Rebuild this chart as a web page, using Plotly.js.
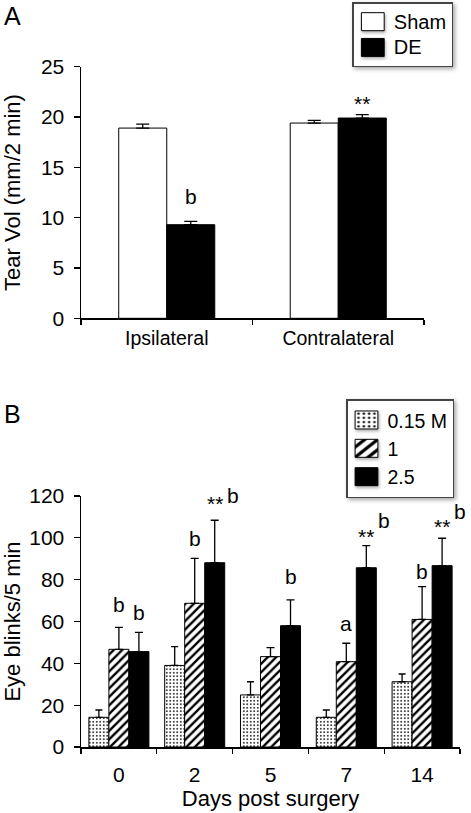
<!DOCTYPE html>
<html>
<head>
<meta charset="utf-8">
<script src="https://cdn.plot.ly/plotly-3.0.1.min.js"></script>
<style>
  html, body { margin: 0; padding: 0; background: #fff; }
  #chart { width: 471px; height: 813px; }
  /* box-shaped legend keys as in the reference (keeps Plotly's centring translate) */
  .legendpoints path { transform: translate(19px, 0px) scale(1.9, 1.5); vector-effect: non-scaling-stroke; }
  .legendpoints { filter: drop-shadow(1px 2px 1.5px rgba(0,0,0,0.3)); }
  text.legendtext { font-size: 20px !important; }
  rect.bg { filter: drop-shadow(2px 2px 2px rgba(0,0,0,0.35)); }
</style>
</head>
<body>
<div id="chart"></div>
<script>
// ---------- Panel A data ----------
const sidesA = ['Ipsilateral', 'Contralateral'];
const shamMean = [18.9, 19.4];
const shamSem = [0.4, 0.27];
const deMean = [9.3, 19.9];
const deSem = [0.33, 0.33];
const seriesNamesA = ['Sham', 'DE'];

// significance labels for panel A
const sigCatA = ['Ipsilateral', 'Contralateral'];
const sigSeriesA = [1, 1];
const sigTextA = ['b', '**'];
const sigYA = [12.1, 21.3];

// ---------- Panel B data ----------
const days = ['0', '2', '5', '7', '14'];
const seriesNamesB = ['0.15 M', '1', '2.5'];
const mean015 = [14.2, 39.0, 24.9, 14.2, 31.2];
const sem015 = [3.5, 9.0, 6.3, 3.5, 3.7];
const mean1 = [46.7, 68.7, 43.2, 40.8, 61.0];
const sem1 = [10.5, 21.5, 4.3, 8.8, 15.7];
const mean25 = [45.6, 88.1, 58.0, 85.7, 86.7];
const sem25 = [9.2, 20.3, 12.3, 10.6, 13.1];

// significance labels for panel B
const sigCatB =    ['0', '0', '2', '2', '2', '5', '7', '7', '7', '14', '14', '14'];
const sigSeriesB = [1, 2, 1, 2, 2, 2, 1, 2, 2, 1, 2, 2];
const sigTextB =   ['b', 'b', 'b', '**', 'b', 'b', 'a', '**', 'b', 'b', '**', 'b'];
const sigYB =      [67.9, 64.2, 99.8, 116.5, 120, 81.4, 59.1, 100.5, 108.5, 83.8, 105.5, 112.5];
const sigSupB =    [0, 0, 0, 0, 1, 0, 0, 0, 1, 0, 0, 1];

const FONT = 'Liberation Sans, Arial, sans-serif';
const zeros = n => new Array(n).fill(0);

const wA = 0.28;           // bar width, category units (panel A)
const wB = 0.264;          // bar width, category units (panel B)

function errBar(arr, w) {
  return { type: 'data', symmetric: false, array: arr, arrayminus: zeros(arr.length),
           color: '#000', thickness: 1.3, width: w, visible: true };
}

const traces = [
  { type: 'bar', x: sidesA, y: shamMean, name: seriesNamesA[0], xaxis: 'x', yaxis: 'y', legend: 'legend',
    width: wA, offset: -wA,
    marker: { color: '#fff', line: { color: '#000', width: 1 } },
    error_y: errBar(shamSem, 6.5), hoverinfo: 'none' },
  { type: 'bar', x: sidesA, y: deMean, name: seriesNamesA[1], xaxis: 'x', yaxis: 'y', legend: 'legend',
    width: wA, offset: 0,
    marker: { color: '#000', line: { color: '#000', width: 1 } },
    error_y: errBar(deSem, 6.5), hoverinfo: 'none' },

  { type: 'bar', x: days, y: mean015, name: seriesNamesB[0], xaxis: 'x2', yaxis: 'y2', legend: 'legend2',
    width: wB, offset: -1.5 * wB,
    marker: { color: '#fff', line: { color: '#000', width: 1 },
              pattern: { shape: '.', fgcolor: '#000', bgcolor: '#fff', size: 3.5, solidity: 0.2 } },
    error_y: errBar(sem015, 3.5), hoverinfo: 'none' },
  { type: 'bar', x: days, y: mean1, name: seriesNamesB[1], xaxis: 'x2', yaxis: 'y2', legend: 'legend2',
    width: wB, offset: -0.5 * wB,
    marker: { color: '#fff', line: { color: '#000', width: 1 },
              pattern: { shape: '/', fgcolor: '#000', bgcolor: '#fff', size: 6, solidity: 0.4 } },
    error_y: errBar(sem1, 4), hoverinfo: 'none' },
  { type: 'bar', x: days, y: mean25, name: seriesNamesB[2], xaxis: 'x2', yaxis: 'y2', legend: 'legend2',
    width: wB, offset: 0.5 * wB,
    marker: { color: '#000', line: { color: '#000', width: 1 } },
    error_y: errBar(sem25, 4), hoverinfo: 'none' }
];

// annotation pixel shifts relative to category centre
const catPxA = (424 - 81) / 2;
const catPxB = (460 - 81) / 5;
const annotations = [];
sigTextA.forEach((t, i) => {
  const centre = (sigSeriesA[i] === 0 ? -0.5 : 0.5) * wA * catPxA;
  annotations.push({ xref: 'x', yref: 'y', x: sidesA.indexOf(sigCatA[i]), y: sigYA[i], text: t, showarrow: false,
    xshift: centre, yanchor: 'middle', font: { family: FONT, size: 21, color: '#000' } });
});
sigTextB.forEach((t, i) => {
  const centre = (sigSeriesB[i] - 1) * wB * catPxB + (sigSupB[i] ? 18 : 0);
  annotations.push({ xref: 'x2', yref: 'y2', x: days.indexOf(sigCatB[i]), y: sigYB[i], text: t, showarrow: false,
    xshift: centre, yanchor: 'middle', font: { family: FONT, size: 21, color: '#000' } });
});
annotations.push({ xref: 'paper', yref: 'paper', x: 2 / 471, y: 1 - 0 / 813, xanchor: 'left', yanchor: 'top',
  text: 'A', showarrow: false, font: { family: FONT, size: 25, color: '#000' } });
annotations.push({ xref: 'paper', yref: 'paper', x: 2 / 471, y: 1 - 398 / 813, xanchor: 'left', yanchor: 'top',
  text: 'B', showarrow: false, font: { family: FONT, size: 25, color: '#000' } });

const axCommon = {
  showgrid: false, zeroline: false, showline: true, linecolor: '#000', linewidth: 1.5,
  ticks: 'outside', tickcolor: '#000', tickwidth: 1.3, fixedrange: true
};

const legendCommon = {
  bgcolor: '#fff', bordercolor: '#444', borderwidth: 1.5,
  traceorder: 'normal', tracegroupgap: 0
};

const layout = {
  width: 471, height: 813,
  margin: { l: 0, r: 0, t: 0, b: 0 },
  paper_bgcolor: '#fff', plot_bgcolor: '#fff',
  font: { family: FONT, color: '#000' },
  barmode: 'group',
  showlegend: true,
  xaxis: Object.assign({}, axCommon, {
    domain: [81 / 471, 424 / 471], anchor: 'y', type: 'category', tickson: 'boundaries', ticklen: 5,
    range: [-0.5, sidesA.length - 0.5], tickangle: 0,
    tickfont: { family: FONT, size: 19.5 }, ticklabelstandoff: 2
  }),
  yaxis: Object.assign({}, axCommon, {
    domain: [1 - 318.3 / 813, 1 - 66.7 / 813], anchor: 'x', range: [0, 25], dtick: 5, ticklen: 6,
    tickfont: { family: FONT, size: 21 }, ticklabelstandoff: 5,
    title: { text: 'Tear Vol (mm/2 min)', font: { family: FONT, size: 22 }, standoff: 15 }
  }),
  xaxis2: Object.assign({}, axCommon, {
    domain: [81 / 471, 460 / 471], anchor: 'y2', type: 'category', tickson: 'boundaries', ticklen: 5,
    range: [-0.5, days.length - 0.5], tickangle: 0,
    tickfont: { family: FONT, size: 21 }, ticklabelstandoff: 8,
    title: { text: 'Days post surgery', font: { family: FONT, size: 22 }, standoff: 2 }
  }),
  yaxis2: Object.assign({}, axCommon, {
    domain: [1 - 747 / 813, 1 - 496 / 813], anchor: 'x2', range: [0, 120], dtick: 20, ticklen: 6,
    tickfont: { family: FONT, size: 21 }, ticklabelstandoff: 5,
    title: { text: 'Eye blinks/5 min', font: { family: FONT, size: 22 }, standoff: 6 }
  }),
  legend: Object.assign({}, legendCommon, {
    font: { family: FONT, size: 17.5, color: '#000' },
    x: 453.3 / 471, xanchor: 'right', y: 1 - 2.3 / 813, yanchor: 'top'
  }),
  legend2: Object.assign({}, legendCommon, {
    font: { family: FONT, size: 19.5, color: '#000' },
    x: 346 / 471, xanchor: 'left', y: 1 - 399.3 / 813, yanchor: 'top'
  }),
  annotations: annotations
};

function enlargeLegendText(gd) {
  gd.querySelectorAll('text.legendtext').forEach(t => {
    t.style.setProperty('font-size', '20px', 'important');
  });
}

Plotly.newPlot('chart', traces, layout, { staticPlot: true, displayModeBar: false }).then(gd => {
  enlargeLegendText(gd);
  gd.on('plotly_afterplot', () => enlargeLegendText(gd));
  setTimeout(() => enlargeLegendText(gd), 0);
});
</script>
</body>
</html>
